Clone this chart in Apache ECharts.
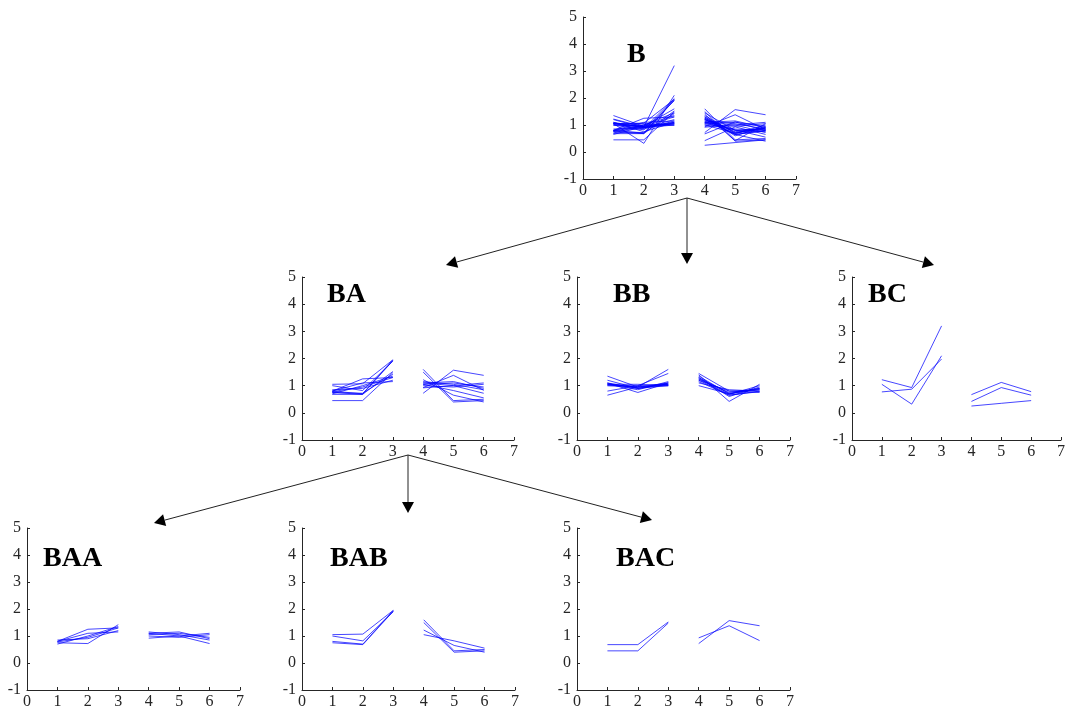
<!DOCTYPE html>
<html><head><meta charset="utf-8">
<script src="https://cdn.jsdelivr.net/npm/echarts@6/dist/echarts.min.js"></script>
<style>html,body{margin:0;padding:0;background:#fff}#c{width:1068px;height:710px}</style>
</head><body><div id="c"></div>
<script>
// x positions of the two measurement blocks
const xFirst = [1, 2, 3];
const xSecond = [4, 5, 6];
const xTickLabels = ['0','1','2','3','4','5','6','7'];
const yTickLabels = ['-1','0','1','2','3','4','5'];

// profiles: [x1,x2,x3, x4,x5,x6]
const clusterBAA = [
  [0.80, 1.25, 1.30, 1.05, 1.10, 0.95],
  [0.75, 0.72, 1.42, 1.10, 1.00, 1.10],
  [0.70, 1.00, 1.35, 0.92, 1.00, 0.72],
  [0.85, 0.90, 1.20, 1.10, 1.15, 0.90],
  [0.80, 1.10, 1.15, 1.00, 0.95, 1.05],
  [0.78, 0.95, 1.30, 1.15, 1.05, 0.85]
];
const clusterBAB = [
  [1.05, 1.07, 1.95, 1.60, 0.45, 0.50],
  [1.00, 0.82, 1.90, 1.22, 0.65, 0.40],
  [0.80, 0.70, 1.95, 1.50, 0.40, 0.45],
  [0.75, 0.68, 1.92, 1.05, 0.82, 0.55]
];
const clusterBAC = [
  [0.68, 0.68, 1.52, 0.72, 1.57, 1.38],
  [0.45, 0.45, 1.48, 0.93, 1.38, 0.83]
];
const clusterBB = [
  [1.35, 0.95, 1.05, 1.45, 0.80, 0.75],
  [1.10, 0.90, 1.10, 1.35, 0.70, 0.85],
  [1.05, 0.95, 1.00, 1.25, 0.75, 0.90],
  [1.05, 0.85, 1.15, 1.20, 0.65, 0.80],
  [1.00, 1.00, 1.05, 1.30, 0.60, 0.95],
  [1.08, 0.90, 1.00, 1.10, 0.85, 0.80],
  [0.80, 1.00, 1.45, 1.40, 0.42, 1.05],
  [0.65, 0.95, 1.60, 1.00, 0.70, 0.90],
  [1.10, 0.75, 1.10, 1.20, 0.80, 0.85],
  [1.05, 1.05, 1.00, 1.15, 0.65, 0.78],
  [1.00, 0.95, 1.10, 1.30, 0.72, 0.88],
  [1.20, 0.90, 1.05, 1.25, 0.68, 1.00]
];
const clusterBC = [
  [1.22, 0.93, 3.20, 0.67, 1.12, 0.78],
  [1.05, 0.32, 2.10, 0.25, 0.35, 0.45],
  [0.77, 0.87, 1.98, 0.42, 0.93, 0.65]
];
const clusterBA = clusterBAA.concat(clusterBAB, clusterBAC);
const clusterB = clusterBA.concat(clusterBB, clusterBC);

const panelNames = ['B', 'BA', 'BB', 'BC', 'BAA', 'BAB', 'BAC'];
const panelData = [clusterB, clusterBA, clusterBB, clusterBC, clusterBAA, clusterBAB, clusterBAC];

// layout (pixels)
const gridBoxes = [
  {left: 583, top: 17, width: 213, height: 162},
  {left: 302, top: 277, width: 212, height: 163},
  {left: 577, top: 277, width: 213, height: 163},
  {left: 852, top: 277, width: 213, height: 163},
  {left: 27, top: 528, width: 213, height: 163},
  {left: 302, top: 528, width: 213, height: 163},
  {left: 577, top: 528, width: 213, height: 163}
];
const titlePos = [[627, 41], [327, 281], [613, 281], [868, 281], [43, 545], [330, 545], [616, 545]];
const arrowSpecs = [
  [687, 198, 446, 265], [687, 198, 687, 264], [687, 198, 934, 265],
  [408, 455, 154, 523], [408, 455, 408, 513], [408, 455, 652, 520]
];

const axisColor = '#262626';
const fontFam = '"Liberation Serif", "Times New Roman", serif';

const grids = [], xAxes = [], yAxes = [], series = [], titles = [];
panelNames.forEach((name, i) => {
  grids.push(Object.assign({containLabel: false}, gridBoxes[i]));
  xAxes.push({
    type: 'value', gridIndex: i, min: 0, max: 7, interval: 1,
    axisLine: {show: true, onZero: false, lineStyle: {color: axisColor, width: 1}},
    axisTick: {show: true, inside: true, length: 3, lineStyle: {color: axisColor}},
    axisLabel: {color: axisColor, fontFamily: fontFam, fontSize: 16, margin: 4,
      formatter: v => xTickLabels[Math.round(v)]},
    splitLine: {show: false}
  });
  yAxes.push({
    type: 'value', gridIndex: i, min: -1, max: 5, interval: 1,
    axisLine: {show: true, onZero: false, lineStyle: {color: axisColor, width: 1}},
    axisTick: {show: true, inside: true, length: 3, lineStyle: {color: axisColor}},
    axisLabel: {color: axisColor, fontFamily: fontFam, fontSize: 16, margin: 6,
      formatter: v => yTickLabels[Math.round(v) + 1]},
    splitLine: {show: false}
  });
  titles.push({
    text: name, left: titlePos[i][0], top: titlePos[i][1], padding: 0,
    textStyle: {fontFamily: fontFam, fontWeight: 'bold', fontSize: 28, color: '#000'}
  });
  panelData[i].forEach(p => {
    const data = [];
    xFirst.forEach((x, k) => data.push([x, p[k]]));
    data.push([3.5, '-']);
    xSecond.forEach((x, k) => data.push([x, p[k + 3]]));
    series.push({
      type: 'line', xAxisIndex: i, yAxisIndex: i, data: data,
      symbol: 'none', connectNulls: false, silent: true,
      lineStyle: {color: 'rgba(0,0,255,0.72)', width: 1}
    });
  });
});

const graphics = [];
arrowSpecs.forEach(a => {
  const [x1, y1, x2, y2] = a;
  const dx = x2 - x1, dy = y2 - y1, L = Math.hypot(dx, dy);
  const ux = dx / L, uy = dy / L, hl = 11, hw = 6;
  const bx = x2 - ux * hl, by = y2 - uy * hl;
  graphics.push({type: 'line', silent: true,
    shape: {x1: x1, y1: y1, x2: bx, y2: by}, style: {stroke: '#222', lineWidth: 1}});
  graphics.push({type: 'polygon', silent: true,
    shape: {points: [[x2, y2], [bx - uy * hw, by + ux * hw], [bx + uy * hw, by - ux * hw]]},
    style: {fill: '#000'}});
});

const chart = echarts.init(document.getElementById('c'), null, {renderer: 'canvas'});
chart.setOption({
  backgroundColor: '#fff', animation: false,
  title: titles, grid: grids, xAxis: xAxes, yAxis: yAxes, series: series,
  graphic: graphics
});
</script></body></html>
